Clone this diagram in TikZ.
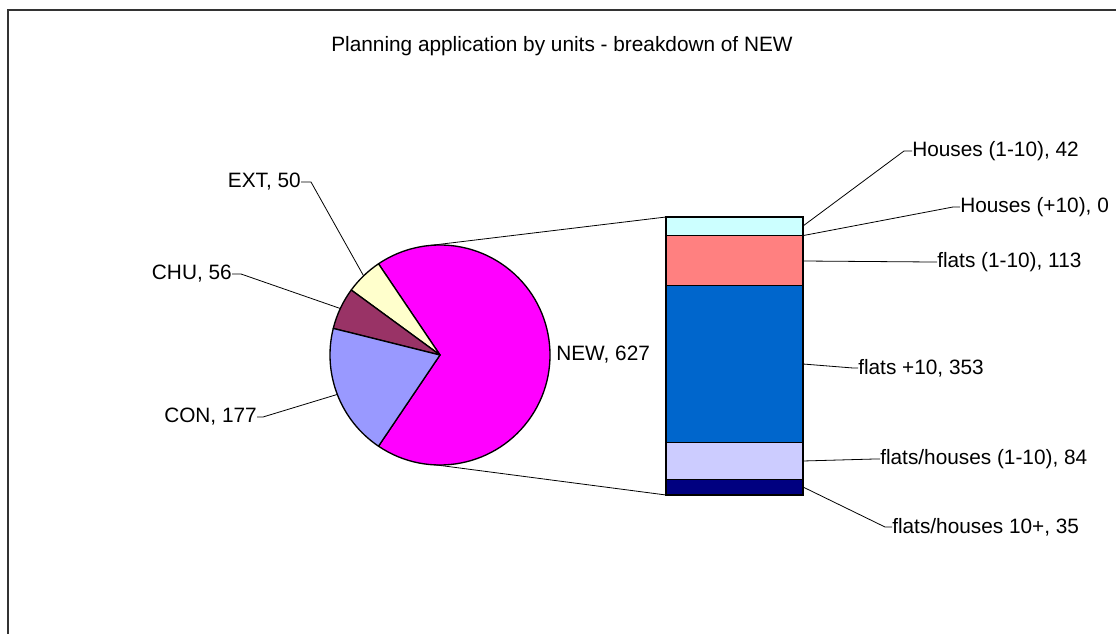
\documentclass[tikz,border=0pt]{standalone}
\usepackage{fontspec}
\setmainfont{Liberation Sans}
\usepackage{xcolor}
\usetikzlibrary{calc}
\definecolor{newMagenta}{HTML}{FF00FF}
\definecolor{conLilac}{HTML}{9999FF}
\definecolor{chuPlum}{HTML}{993366}
\definecolor{extCream}{HTML}{FFFFCC}
\definecolor{hsCyan}{HTML}{CCFFFF}
\definecolor{flSalmon}{HTML}{FF8080}
\definecolor{flBlue}{HTML}{0066CC}
\definecolor{fhLavender}{HTML}{CCCCFF}
\definecolor{fhNavy}{HTML}{000080}

\begin{document}
\begin{tikzpicture}[x=0.75pt, y=-0.75pt,
    slice/.style={draw=black, line width=1pt, line join=round},
    seg/.style={draw=black, line width=1pt},
    lead/.style={draw=black, line width=0.6pt},
    lbl/.style={inner sep=0pt, font=\fontsize{15.6}{18}\selectfont},
  ]
  \useasboundingbox (0,0) rectangle (1116,634);
  \draw[line width=1.2pt, black!80] (8,640) -- (8,10) -- (1120,10);

  \node[lbl] (title) at (562,46) {Planning application by units - breakdown of NEW};

  % pie of all units
  \begin{scope}[shift={(440,355)}, y=0.75pt]
    \filldraw[slice, fill=newMagenta] (0,0) -- (236:110) arc[start angle=236, end angle=484, radius=110] -- cycle;
    \filldraw[slice, fill=extCream] (0,0) -- (124:110) arc[start angle=124, end angle=143.8, radius=110] -- cycle;
    \filldraw[slice, fill=chuPlum] (0,0) -- (143.8:110) arc[start angle=143.8, end angle=166, radius=110] -- cycle;
    \filldraw[slice, fill=conLilac] (0,0) -- (166:110) arc[start angle=166, end angle=236, radius=110] -- cycle;
    \coordinate (pExt) at (134:110);
    \coordinate (pChu) at (155:110);
    \coordinate (pCon) at (201:110);
    \coordinate (pTop) at (95:110);
    \coordinate (pBot) at (268:110);
  \end{scope}

  % bar with the breakdown of NEW
  \filldraw[seg, fill=hsCyan]     (666,217)   rectangle (803,235.6);
  \filldraw[seg, fill=flSalmon]   (666,235.6) rectangle (803,285.7);
  \filldraw[seg, fill=flBlue]     (666,285.7) rectangle (803,442.2);
  \filldraw[seg, fill=fhLavender] (666,442.2) rectangle (803,479.5);
  \filldraw[seg, fill=fhNavy]     (666,479.5) rectangle (803,495);
  \coordinate (barTL) at (666,217);
  \coordinate (barBL) at (666,495);
  \coordinate (bHs1) at (803,226);
  \coordinate (bHs2) at (803,235.6);
  \coordinate (bFl1) at (803,261);
  \coordinate (bFl2) at (803,364);
  \coordinate (bFh1) at (803,461);
  \coordinate (bFh2) at (803,487);

  \draw[lead] (pTop) -- (barTL);
  \draw[lead] (pBot) -- (barBL);

  % labels
  \node[lbl, anchor=east] (ext) at (301,182) {EXT, 50};
  \node[lbl, anchor=east] (chu) at (232,274) {CHU, 56};
  \node[lbl, anchor=east] (con) at (257,417) {CON, 177};
  \node[lbl, anchor=west] (new) at (556,355) {NEW, 627};
  \node[lbl, anchor=west] (hs1) at (912,151) {Houses (1-10), 42};
  \node[lbl, anchor=west] (hs2) at (960,207) {Houses (+10), 0};
  \node[lbl, anchor=west] (fl1) at (937,262) {flats (1-10), 113};
  \node[lbl, anchor=west] (fl2) at (858,368) {flats +10, 353};
  \node[lbl, anchor=west] (fh1) at (880,459) {flats/houses (1-10), 84};
  \node[lbl, anchor=west] (fh2) at (892,527) {flats/houses 10+, 35};

  \draw[lead] (ext.east) -- ++(10,0) -- (pExt);
  \draw[lead] (chu.east) -- ++(9,0) -- (pChu);
  \draw[lead] (con.east) -- ++(6,0) -- (pCon);
  \draw[lead] (hs1.west) -- ++(-8,0) -- (bHs1);
  \draw[lead] (hs2.west) -- ++(-7,0) -- (bHs2);
  \draw[lead] (fl1.west) -- ++(-5,0) -- (bFl1);
  \draw[lead] (fl2.west) -- ++(-5,0) -- (bFl2);
  \draw[lead] (fh1.west) -- ++(-5,0) -- (bFh1);
  \draw[lead] (fh2.west) -- ++(-7,0) -- (bFh2);
\end{tikzpicture}
\end{document}
